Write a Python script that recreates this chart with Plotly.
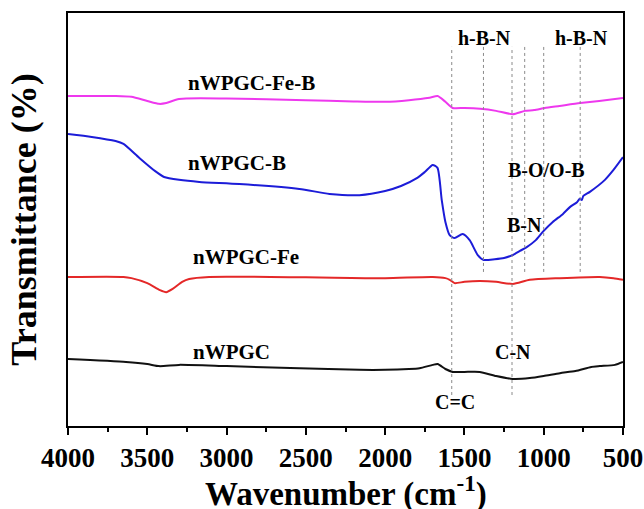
import plotly.graph_objects as go

# ---- data (wavenumber in cm^-1, transmittance in arbitrary offset units) ----
fe_b_wn = [4000, 3700, 3600, 3500, 3425, 3380, 3300, 3000, 2500, 2200, 2000, 1850, 1720, 1669, 1620, 1574,
           1500, 1400, 1300, 1195, 1120, 1060, 994, 900, 770, 650, 500]
fe_b_t = [79.9, 79.9, 79.7, 78.7, 78.0, 78.2, 79.2, 79.3, 78.9, 78.6, 78.5, 78.9, 79.5, 79.9, 78.5, 77.0,
          77.0, 76.8, 76.3, 75.5, 76.3, 76.5, 77.0, 77.5, 78.2, 78.7, 79.4]

b_wn = [4000, 3850, 3700, 3650, 3550, 3450, 3394, 3300, 3172, 2920, 2541, 2351, 2162, 2000, 1900, 1800, 1750,
        1700, 1670, 1643, 1620, 1593, 1562, 1511, 1467, 1416, 1378, 1309, 1250, 1195, 1150, 1107, 1050, 1006,
        943, 880, 835, 790, 772, 760, 750, 709, 614, 560, 500]
b_t = [70.7, 70.0, 69.0, 68.3, 64.9, 61.7, 60.3, 59.6, 59.1, 58.6, 57.4, 56.2, 55.9, 56.9, 58.1, 60.0, 61.5,
       63.2, 62.5, 54.7, 49.4, 46.2, 45.5, 46.5, 45.0, 41.4, 40.2, 40.4, 40.7, 41.4, 42.4, 43.3, 45.0, 47.0,
       49.4, 51.3, 53.0, 54.2, 55.0, 54.7, 55.7, 56.7, 59.6, 62.0, 65.1]

fe_wn = [4000, 3650, 3600, 3500, 3420, 3381, 3340, 3280, 3236, 3110, 2500, 2000, 1700, 1620, 1593, 1562,
         1500, 1404, 1300, 1195, 1088, 898, 646, 560, 500]
fe_t = [36.1, 36.1, 35.8, 34.6, 32.9, 32.4, 33.2, 34.9, 35.6, 36.1, 36.0, 35.8, 36.1, 35.8, 35.4, 34.6,
        34.9, 35.1, 34.9, 34.4, 35.4, 35.8, 36.1, 35.8, 35.4]

c_wn = [4000, 3634, 3500, 3425, 3300, 3000, 2541, 2162, 2000, 1850, 1783, 1700, 1669, 1620, 1574, 1500,
        1404, 1300, 1195, 1088, 1000, 898, 800, 700, 646, 551, 500]
c_t = [16.2, 15.5, 15.0, 14.5, 14.8, 14.5, 14.0, 13.6, 13.6, 13.8, 14.0, 14.8, 15.0, 13.8, 13.1, 13.1,
       13.1, 12.1, 11.4, 11.6, 12.1, 12.8, 13.3, 14.3, 14.5, 14.8, 15.5]

series_names = ["nWPGC-Fe-B", "nWPGC-B", "nWPGC-Fe", "nWPGC"]
series_colors = ["#ee38ee", "#1c1cd8", "#e42828", "#111111"]
series_label_pos = [(2844, 83.1), (2932, 63.7), (2876, 40.9), (2970, 17.9)]

# reference band lines
band_wn = [1580, 1380, 1200, 1120, 1000, 770]
band_top = [91.8, 91.8, 91.8, 91.8, 91.8, 91.8]
band_bottom = [7.5, 37.3, 7.5, 37.3, 37.3, 37.3]

band_labels = ["h-B-N", "h-B-N", "B-O/O-B", "B-N", "C-N", "C=C"]
band_label_pos = [(1372, 93.9), (759, 93.9), (980, 62.0), (1119, 48.7), (1195, 17.9), (1562, 5.8)]

x_ticks = [4000, 3500, 3000, 2500, 2000, 1500, 1000, 500]
x_title = "Wavenumber (cm<sup>-1</sup>)"
y_title = "Transmittance (%)"

FONT = "Liberation Serif"

fig = go.Figure()
data = [(fe_b_wn, fe_b_t), (b_wn, b_t), (fe_wn, fe_t), (c_wn, c_t)]
for (xs, ys), name, col in zip(data, series_names, series_colors):
    fig.add_trace(go.Scatter(x=xs, y=ys, mode="lines", name=name,
                             line=dict(color=col, width=2, shape="spline", smoothing=0.6)))

for wn, y0, y1 in zip(band_wn, band_bottom, band_top):
    fig.add_trace(go.Scatter(x=[wn, wn], y=[y0, y1], mode="lines", showlegend=False,
                             line=dict(color="#8a8a8a", width=1, dash="dot"), hoverinfo="skip"))

for name, (x, y) in zip(series_names, series_label_pos):
    fig.add_annotation(x=x, y=y, text=name, showarrow=False,
                       font=dict(family=FONT, size=21, color="black", weight="bold"))

for name, (x, y) in zip(band_labels, band_label_pos):
    fig.add_annotation(x=x, y=y, text=name, showarrow=False,
                       font=dict(family=FONT, size=20, color="black", weight="bold"))

# x-axis title placed as an annotation so it can sit close to the page bottom
fig.add_annotation(x=0.5, y=0, xref="paper", yref="paper", text=x_title, showarrow=False,
                   xanchor="center", yanchor="middle", yshift=-65,
                   font=dict(family=FONT, size=33, color="black", weight="bold"))

fig.update_layout(
    width=644, height=509,
    margin=dict(l=68, r=21, t=13, b=83, autoexpand=False),
    plot_bgcolor="white", paper_bgcolor="white",
    showlegend=False,
    font=dict(family=FONT, color="black"),
)
fig.update_xaxes(
    range=[4000, 500], tickvals=x_ticks, automargin=False,
    ticks="outside", ticklen=7, tickwidth=2, tickcolor="black",
    minor=dict(dtick=250, ticks="outside", ticklen=4, tickwidth=2, tickcolor="black"),
    showline=True, linewidth=2, linecolor="black", mirror=True,
    showgrid=False, zeroline=False,
    tickfont=dict(family=FONT, size=27, color="black", weight="bold"),
)
fig.update_yaxes(
    range=[0, 100], showticklabels=False, ticks="", automargin=False,
    showline=True, linewidth=2, linecolor="black", mirror=True,
    showgrid=False, zeroline=False,
    title=dict(text=y_title, standoff=18,
               font=dict(family=FONT, size=36, color="black", weight="bold")),
)

# remove the default page margin so the figure fills the window exactly
fig.write_html("out.html", config={"displayModeBar": False},
               post_script="document.body.style.margin='0';")
